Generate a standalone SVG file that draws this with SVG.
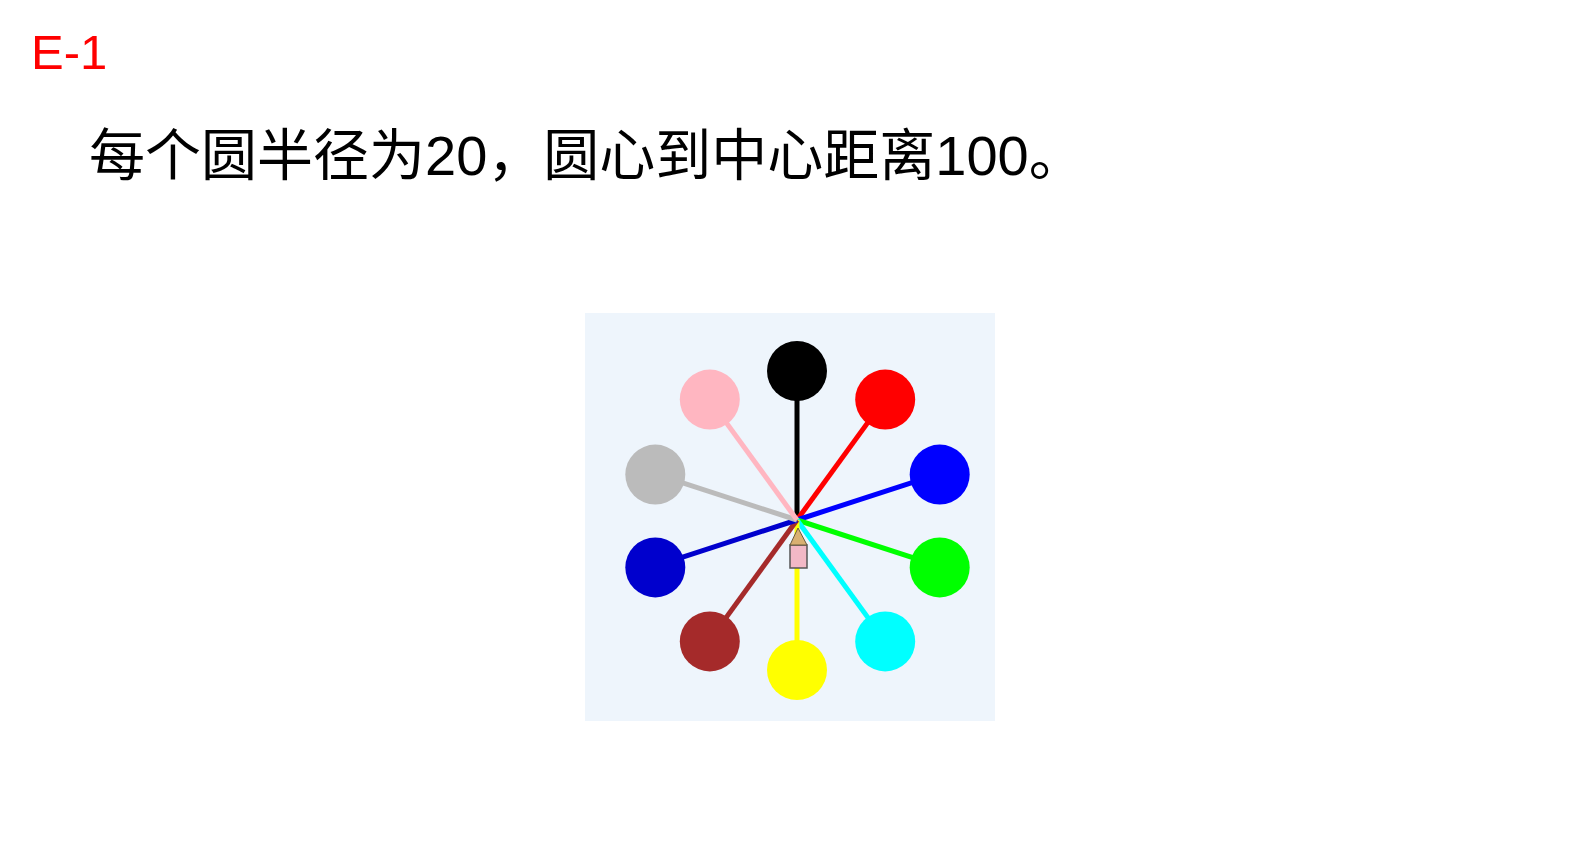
<svg xmlns="http://www.w3.org/2000/svg" width="1580" height="850" viewBox="0 0 1580 850">
<style>
.title{font-family:"Liberation Sans",Arial,sans-serif;font-size:49px;fill:#ff0000}
.cap{font-family:"Liberation Sans","Noto Sans CJK SC",sans-serif;font-size:56px;fill:#000}
.spoke{stroke-width:5;stroke-linecap:butt}
</style>
<rect width="1580" height="850" fill="#ffffff"/>
<text class="title" x="31" y="69">E-1</text>
<text class="cap" x="89" y="175">每个圆半径为20，圆心到中心距离100。</text>
<rect x="585" y="313" width="410" height="408" fill="#eef5fc"/>
<g id="connectors">
<line class="spoke" x1="797" y1="520" x2="797" y2="370" stroke="#000000"/>
<line class="spoke" x1="797" y1="520" x2="885.2" y2="398.6" stroke="#ff0000"/>
<line class="spoke" x1="797" y1="520" x2="939.7" y2="473.6" stroke="#0000ff"/>
<line class="spoke" x1="797" y1="520" x2="939.7" y2="566.4" stroke="#00ff00"/>
<line class="spoke" x1="797" y1="520" x2="885.2" y2="641.4" stroke="#00ffff"/>
<line class="spoke" x1="797" y1="520" x2="797" y2="670" stroke="#ffff00"/>
<line class="spoke" x1="797" y1="520" x2="708.8" y2="641.4" stroke="#a52a2a"/>
<line class="spoke" x1="797" y1="520" x2="654.3" y2="566.4" stroke="#0000cd"/>
<line class="spoke" x1="797" y1="520" x2="654.3" y2="473.6" stroke="#bbbbbb"/>
<line class="spoke" x1="797" y1="520" x2="708.8" y2="398.6" stroke="#ffb6c1"/>
</g>
<g id="n-black"><circle cx="797" cy="371" r="30" fill="#000000"/></g>
<g id="n-red"><circle cx="885.2" cy="399.6" r="30" fill="#ff0000"/></g>
<g id="n-blue"><circle cx="939.7" cy="474.6" r="30" fill="#0000ff"/></g>
<g id="n-lime"><circle cx="939.7" cy="567.4" r="30" fill="#00ff00"/></g>
<g id="n-cyan"><circle cx="885.2" cy="641.4" r="30" fill="#00ffff"/></g>
<g id="n-yellow"><circle cx="797" cy="670" r="30" fill="#ffff00"/></g>
<g id="n-brown"><circle cx="709.8" cy="641.4" r="30" fill="#a52a2a"/></g>
<g id="n-darkblue"><circle cx="655.3" cy="567.4" r="30" fill="#0000cd"/></g>
<g id="n-gray"><circle cx="655.3" cy="474.6" r="30" fill="#bbbbbb"/></g>
<g id="n-pink"><circle cx="709.8" cy="399.6" r="30" fill="#ffb6c1"/></g>
<g id="cursor">
<rect x="790" y="545" width="17" height="23" fill="#f2b8c6" stroke="#555" stroke-width="1.5"/>
<polygon points="790,545 798,528 807,545" fill="#d9b071" stroke="#6b5a3a" stroke-width="1"/>
</g>
</svg>
